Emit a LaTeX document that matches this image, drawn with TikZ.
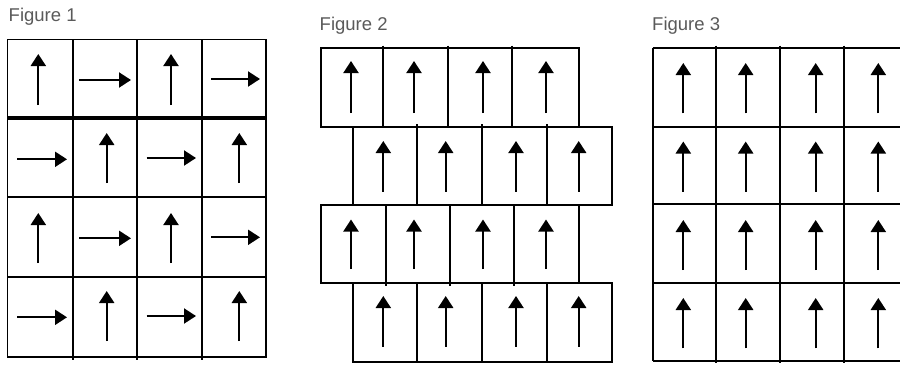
\documentclass[tikz,border=0pt]{standalone}
\usepackage{fontspec}
\setmainfont{Liberation Sans}
\usetikzlibrary{arrows.meta}
\definecolor{titlegray}{RGB}{90,90,90}
\tikzset{
  gridline/.style={line width=1.8pt},
  thickline/.style={line width=3.8pt},
  arr/.style={line width=2.1pt, -{Triangle[width=15pt,length=12pt]}},
  figtitle/.style={anchor=base west, inner sep=0pt, text=titlegray, font=\fontsize{18.5}{21}\selectfont},
}
\newcommand\arrU[3]{\draw[arr] (#1,#3) -- (#1,#2);}
\newcommand\arrR[3]{\draw[arr] (#1,#3) -- (#2,#3);}
\begin{document}
\begin{tikzpicture}[x=1pt,y=-1pt]
\clip (0,0) rectangle (900,365);
\fill[white] (0,0) rectangle (900,365);

% ---------- Figure 1 ----------
\node[figtitle] (t1) at (8.5,21.5) {Figure 1};
\draw[gridline] (7.5,39.5) rectangle (266,357);
\foreach \yy in {197,277} \draw[gridline] (7.5,\yy) -- (266,\yy);
\draw[thickline] (7.5,118) -- (266,118);
\foreach \xx in {72.7,136.7,201.7} \draw[gridline] (\xx,39.5) -- (\xx,359.5);
% row 1
\arrU{38.3}{54}{105}
\arrR{79}{131}{80}
\arrU{171}{54}{105}
\arrR{211}{260}{79}
% row 2
\arrR{17}{67}{159.3}
\arrU{106.7}{133}{183}
\arrR{146.7}{196}{158}
\arrU{239.3}{133}{183}
% row 3
\arrU{38.3}{213}{263}
\arrR{79}{131}{238.3}
\arrU{171}{213}{263}
\arrR{211}{260}{237.3}
% row 4
\arrR{17}{67}{317.3}
\arrU{106.7}{291}{341}
\arrR{146.7}{196}{316}
\arrU{239.3}{291}{341}

% ---------- Figure 2 ----------
\node[figtitle] (t2) at (319.5,30.5) {Figure 2};
% rows 1 and 3
\draw[gridline] (320.7,48.3) rectangle (578.7,126.7);
\draw[gridline] (320.7,205) rectangle (578.7,283.3);
\foreach \xx in {383.3,447.7,512.3} \draw[gridline] (\xx,45.5) -- (\xx,127.5);
\foreach \xx in {386,450,514.3} \draw[gridline] (\xx,204.5) -- (\xx,286);
% rows 2 and 4
\draw[gridline] (353.3,126.7) rectangle (611.7,205);
\draw[gridline] (353.3,283.3) rectangle (611.7,361.7);
\foreach \xx in {417.3,482.3,546.7} \draw[gridline] (\xx,124) -- (\xx,205.5);
\foreach \xx in {417.3,482.3,546.7} \draw[gridline] (\xx,282.5) -- (\xx,362.5);
\foreach \xx in {351,414,483,546} {\arrU{\xx}{61}{113}}
\foreach \xx in {383.3,445.7,516,578.7} {\arrU{\xx}{141}{191.7}}
\foreach \xx in {351,414,483,546} {\arrU{\xx}{219.5}{269}}
\foreach \xx in {383.3,445.7,516,578.7} {\arrU{\xx}{296}{346.7}}

% ---------- Figure 3 ----------
\node[figtitle] (t3) at (652,30.5) {Figure 3};
\foreach \yy in {48.3,126.7,204.3,282.7,360.7} \draw[gridline] (652.7,\yy) -- (912,\yy);
\draw[gridline] (652.7,48.3) -- (652.7,360.7);
\foreach \xx in {715.7,780,844.3,908.5} \draw[gridline] (\xx,45.5) -- (\xx,363);
\foreach \yy/\zz in {63/113.3,141.5/191.7,220/270,298/348.3}
  \foreach \xx in {683.3,745.7,815.7,878.3} {\arrU{\xx}{\yy}{\zz}}
\end{tikzpicture}
\end{document}
